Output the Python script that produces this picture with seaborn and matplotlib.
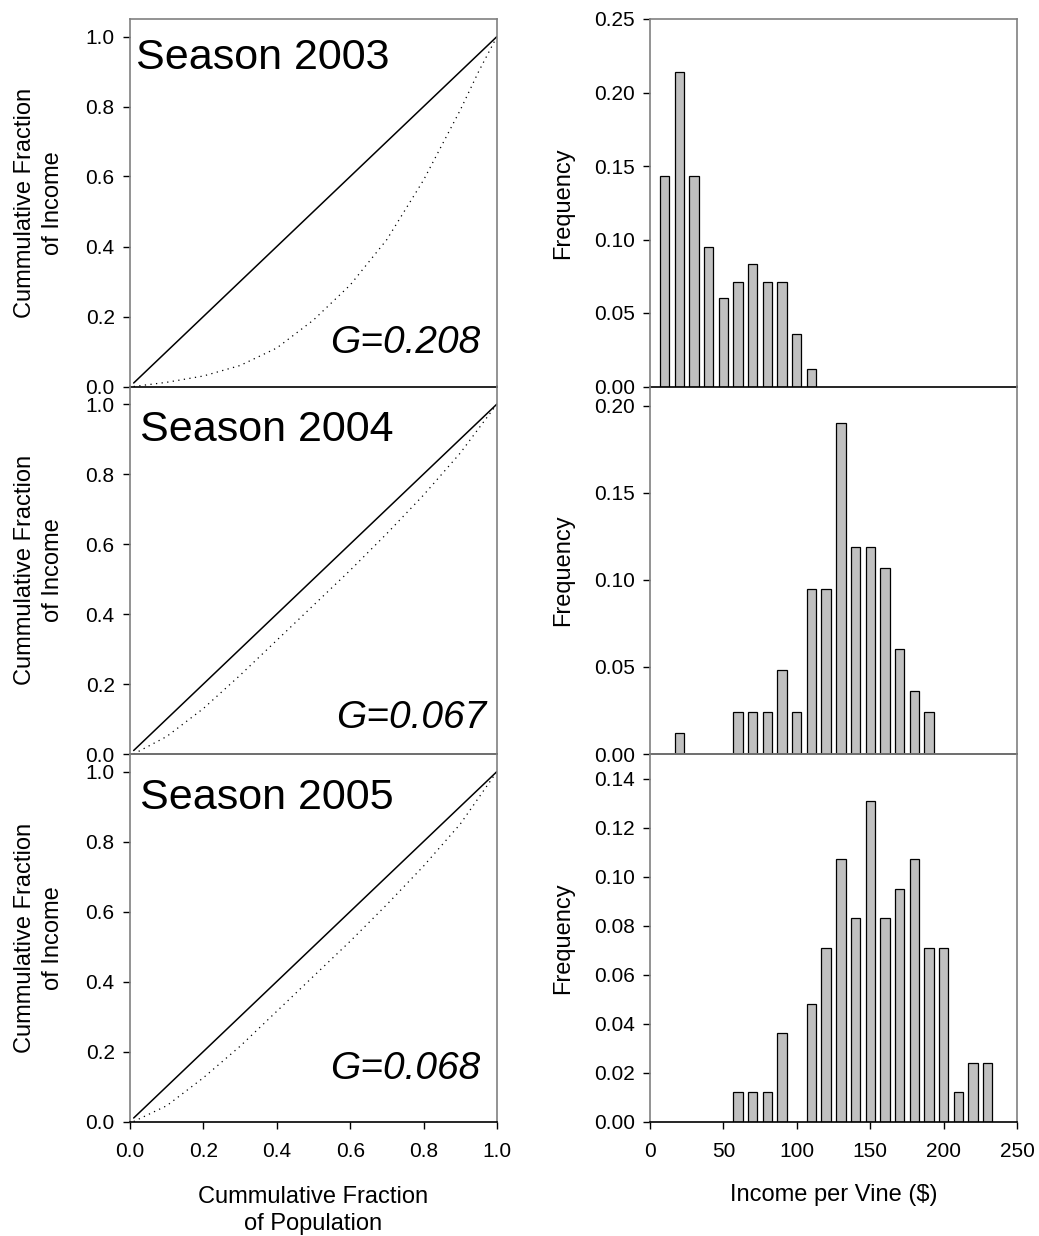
import numpy as np
import pandas as pd
import matplotlib
matplotlib.use("Agg")
import matplotlib.pyplot as plt
import seaborn as sns

sns.set_style("white")
plt.rcParams['font.family'] = ['Liberation Sans', 'DejaVu Sans']
plt.rcParams['text.color'] = 'black'
plt.rcParams['axes.labelcolor'] = 'black'
plt.rcParams['xtick.color'] = 'black'
plt.rcParams['ytick.color'] = 'black'

# ---- data
seasons = ["Season 2003", "Season 2004", "Season 2005"]
gini_labels = ["G=0.208", "G=0.067", "G=0.068"]

# Lorenz curves (cumulative fraction of population vs income)
pop_2003 = [0.01, 0.1, 0.2, 0.3, 0.4, 0.5, 0.6, 0.7, 0.8, 0.9, 0.95, 1.0]
inc_2003 = [0.0, 0.012, 0.03, 0.06, 0.11, 0.19, 0.29, 0.42, 0.59, 0.79, 0.9, 1.0]
pop_2004 = [0.01, 0.1, 0.2, 0.3, 0.4, 0.5, 0.6, 0.7, 0.8, 0.9, 1.0]
inc_2004 = [0.0, 0.05, 0.13, 0.225, 0.325, 0.425, 0.525, 0.63, 0.74, 0.86, 1.0]
pop_2005 = [0.01, 0.1, 0.2, 0.3, 0.4, 0.5, 0.6, 0.7, 0.8, 0.9, 1.0]
inc_2005 = [0.0, 0.045, 0.125, 0.215, 0.315, 0.415, 0.515, 0.62, 0.73, 0.85, 1.0]
equal_line = [0.01, 1.0]

# income per vine histograms
bins_2003 = [10, 20, 30, 40, 50, 60, 70, 80, 90, 100, 110]
freq_2003 = [0.143, 0.214, 0.143, 0.095, 0.060, 0.071, 0.083, 0.071, 0.071, 0.036, 0.012]
bins_2004 = [20, 60, 70, 80, 90, 100, 110, 120, 130, 140, 150, 160, 170, 180, 190]
freq_2004 = [0.012, 0.024, 0.024, 0.024, 0.048, 0.024, 0.095, 0.095, 0.190, 0.119,
             0.119, 0.107, 0.060, 0.036, 0.024]
bins_2005 = [60, 70, 80, 90, 110, 120, 130, 140, 150, 160, 170, 180, 190, 200, 210, 220, 230]
freq_2005 = [0.012, 0.012, 0.012, 0.036, 0.048, 0.071, 0.107, 0.083, 0.131, 0.083,
             0.095, 0.107, 0.071, 0.071, 0.012, 0.024, 0.024]

lorenz = [(pop_2003, inc_2003), (pop_2004, inc_2004), (pop_2005, inc_2005)]
hists = [(bins_2003, freq_2003), (bins_2004, freq_2004), (bins_2005, freq_2005)]
hist_ylim = [0.25, 0.211, 0.15]
hist_yticks = [np.arange(0, 0.26, 0.05), np.arange(0, 0.21, 0.05), np.arange(0, 0.141, 0.02)]
season_pos = [(0.016, 0.948), (0.027, 0.936), (0.027, 0.935)]
gini_pos = [(0.955, 0.091), (0.97, 0.071), (0.955, 0.117)]

W, H = 1039, 1236
fig = plt.figure(figsize=(W / 100, H / 100), dpi=100)

row_top = [19, 386.5, 754]
row_h = 367.5
gray = "#808080"


def style_axes(ax, row, show_top):
    for s in ["left", "right", "top"]:
        ax.spines[s].set_color(gray)
        ax.spines[s].set_linewidth(1.2)
    ax.spines["bottom"].set_color("black")
    ax.spines["bottom"].set_linewidth(1.2)
    ax.spines["top"].set_visible(show_top)
    ax.tick_params(axis="y", direction="out", length=5, width=1, color="black",
                   labelsize=15, pad=6, left=True)
    if row == 2:
        ax.tick_params(axis="x", direction="out", length=5, width=1, color="black",
                       labelsize=15, pad=10, bottom=True)
    else:
        ax.tick_params(axis="x", bottom=False, labelbottom=False)


for row in range(3):
    bottom = 1 - (row_top[row] + row_h) / H
    h = row_h / H

    # ---- Lorenz curve panel
    ax = fig.add_axes([130 / W, bottom, 367 / W, h], facecolor="none")
    sns.lineplot(x=equal_line, y=equal_line, ax=ax, color="black", linewidth=1.1)
    px, py = lorenz[row]
    sns.lineplot(x=px, y=py, ax=ax, color="black", linewidth=0.9,
                 linestyle=(0, (1, 3.5)))
    ax.set_xlim(0, 1.0)
    ax.set_ylim(0, 1.05)
    ax.set_yticks(np.arange(0, 1.01, 0.2))
    ax.set_yticklabels([f"{v:.1f}" for v in np.arange(0, 1.01, 0.2)])
    ax.set_xticks(np.arange(0, 1.01, 0.2))
    ax.set_xticklabels([f"{v:.1f}" for v in np.arange(0, 1.01, 0.2)])
    style_axes(ax, row, row != 1)
    ax.set_ylabel("Cummulative Fraction\nof Income", fontsize=17, linespacing=1.3,
                  va="center")
    ax.yaxis.set_label_coords(-0.248, 0.5)
    ax.text(season_pos[row][0], season_pos[row][1], seasons[row], transform=ax.transAxes,
            fontsize=31, ha="left", va="top")
    ax.text(gini_pos[row][0], gini_pos[row][1], gini_labels[row], transform=ax.transAxes,
            fontsize=28, style="italic", ha="right", va="baseline")
    if row == 2:
        ax.set_xlabel("Cummulative Fraction\nof Population", fontsize=17, linespacing=1.3,
                      va="center")
        ax.xaxis.set_label_coords(0.5, -0.242)

    # ---- income histogram panel
    ax2 = fig.add_axes([650 / W, bottom, 367 / W, h], facecolor="none")
    bx, by = hists[row]
    df = pd.DataFrame({"income": bx, "freq": by})
    sns.barplot(data=df, x="income", y="freq", ax=ax2, native_scale=True, width=0.64,
                color="#c0c0c0", saturation=1, edgecolor="black", linewidth=0.9,
                errorbar=None)
    ax2.set_xlim(0, 250)
    ax2.set_ylim(0, hist_ylim[row])
    ax2.set_yticks(hist_yticks[row])
    ax2.set_yticklabels([f"{v:.2f}" for v in hist_yticks[row]])
    ax2.set_xticks(np.arange(0, 251, 50))
    ax2.set_xticklabels([str(v) for v in range(0, 251, 50)])
    style_axes(ax2, row, row != 1)
    ax2.set_ylabel("Frequency", fontsize=17, va="center")
    ax2.yaxis.set_label_coords(-0.237, 0.5)
    if row == 2:
        ax2.set_xlabel("Income per Vine ($)", fontsize=17, va="center")
        ax2.xaxis.set_label_coords(0.5, -0.2)
    else:
        ax2.set_xlabel("")

fig.savefig("out.png", dpi=100)
